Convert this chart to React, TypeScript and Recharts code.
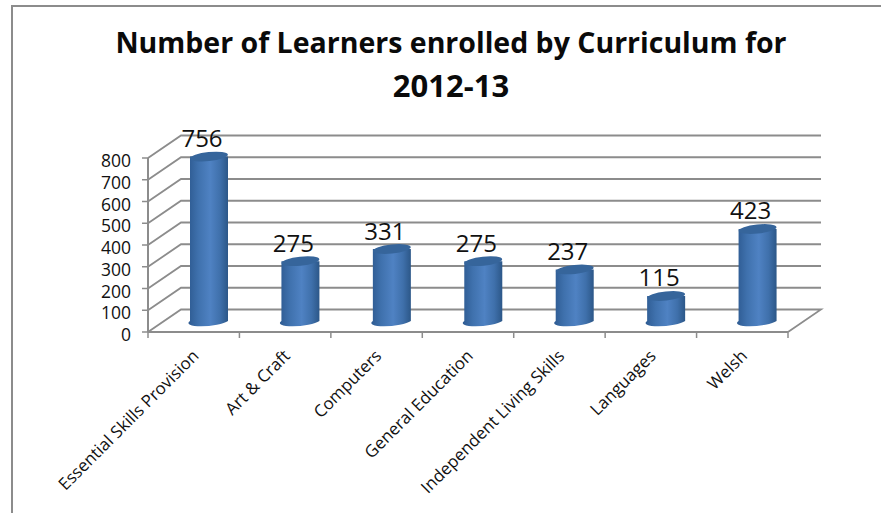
import { BarChart, Bar, XAxis, YAxis, CartesianGrid, LabelList } from "recharts";

const categories = [
  "Essential Skills Provision",
  "Art & Craft",
  "Computers",
  "General Education",
  "Independent Living Skills",
  "Languages",
  "Welsh",
];
const learners = [756, 275, 331, 275, 237, 115, 423];
const yTicks = [0, 100, 200, 300, 400, 500, 600, 700, 800];

const data = categories.map((name, i) => ({ name, learners: learners[i] }));

const FONT = "'Open Sans', sans-serif";
const GRID = "#8c8c8c";
const WIDTH = 881;
const HEIGHT = 513;
const PLOT = { left: 148, right: 788, top: 158, bottom: 332 };
const STEP = (PLOT.right - PLOT.left) / categories.length;
// offset of the back wall from the front plane
const DEPTH_X = 33;
const DEPTH_Y = 22.5;
// columns stand in the middle of the floor
const BAR_DX = 15;
const BAR_DY = 11;

function WallLine(props: any) {
  const { x1, x2, y1 } = props;
  const pts = [
    `${x1},${y1}`,
    `${x1 + DEPTH_X},${y1 - DEPTH_Y}`,
    `${x2 + DEPTH_X},${y1 - DEPTH_Y}`,
  ];
  // the floor closes back to the front edge on the right
  if (Math.abs(y1 - PLOT.bottom) < 1) pts.push(`${x2},${y1}`);
  return <polyline points={pts.join(" ")} fill="none" stroke={GRID} strokeWidth={1.8} />;
}

function Cylinder(props: any) {
  const { x, y, width, height } = props;
  const left = x + BAR_DX;
  const top = y - BAR_DY;
  const cx = left + width / 2;
  const rx = width / 2;
  const ry = 4.5;
  const bottom = top + height;
  const body = `M${left},${top} L${left},${bottom} A${rx},${ry} -6 0 0 ${left + width},${bottom} L${left + width},${top} Z`;
  return (
    <g>
      <path d={body} fill="url(#cylinderFill)" />
      <ellipse
        cx={cx}
        cy={top}
        rx={rx}
        ry={ry}
        fill="#36659b"
        transform={`rotate(-6 ${cx} ${top})`}
      />
    </g>
  );
}

function ValueLabel(props: any) {
  const { x, y, width, value } = props;
  return (
    <text
      x={x + width / 2 + 8}
      y={y - 30}
      textAnchor="middle"
      dominantBaseline="central"
      fontFamily={FONT}
      fontSize={24}
      fill="#111"
    >
      {value}
    </text>
  );
}

function CategoryTick(props: any) {
  const { x, y, payload, index } = props;
  const left = x - STEP / 2;
  const isLast = index === categories.length - 1;
  return (
    <g>
      <line x1={left} x2={left} y1={PLOT.bottom} y2={PLOT.bottom + 6} stroke={GRID} strokeWidth={1.5} />
      {isLast && (
        <line
          x1={left + STEP}
          x2={left + STEP}
          y1={PLOT.bottom}
          y2={PLOT.bottom + 6}
          stroke={GRID}
          strokeWidth={1.5}
        />
      )}
      <text
        x={x + 6}
        y={y + 17}
        textAnchor="end"
        fontFamily={FONT}
        fontSize={16.9}
        fill="#111"
        transform={`rotate(-45 ${x + 6} ${y + 17})`}
      >
        {payload.value}
      </text>
    </g>
  );
}

function ValueTick(props: any) {
  const { x, y, payload } = props;
  return (
    <text
      x={x - 5}
      y={y + 2}
      textAnchor="end"
      dominantBaseline="central"
      fontFamily={FONT}
      fontSize={17.5}
      fill="#111"
    >
      {payload.value}
    </text>
  );
}

const titleStyle = {
  position: "absolute",
  left: 0,
  width: 902,
  textAlign: "center",
  fontFamily: FONT,
  fontWeight: 700,
  fontSize: 28.5,
  lineHeight: "44px",
  color: "#0a0a0a",
} as const;

export default function App() {
  return (
    <div
      style={{
        position: "absolute",
        left: 0,
        top: 0,
        width: WIDTH,
        height: HEIGHT,
        background: "#fff",
        overflow: "hidden",
      }}
    >
      <div style={{ position: "absolute", left: 11, top: 5, right: 0, height: 2, background: GRID }} />
      <div style={{ position: "absolute", left: 11, top: 5, bottom: 0, width: 2, background: GRID }} />
      <div style={{ ...titleStyle, top: 20 }}>Number of Learners enrolled by Curriculum for</div>
      <div style={{ ...titleStyle, top: 63, fontSize: 31 }}>2012-13</div>
      <BarChart
        width={WIDTH}
        height={HEIGHT}
        data={data}
        margin={{ top: PLOT.top, right: WIDTH - PLOT.right, bottom: 0, left: 0 }}
        barCategoryGap={(STEP - 38) / 2}
        style={{ position: "absolute", left: 0, top: 0 }}
      >
        <defs>
          <linearGradient id="cylinderFill" x1="0" y1="0" x2="1" y2="0">
            <stop offset="0%" stopColor="#2e5b92" />
            <stop offset="25%" stopColor="#3f71ad" />
            <stop offset="55%" stopColor="#4f82c3" />
            <stop offset="80%" stopColor="#3f70ab" />
            <stop offset="100%" stopColor="#2c5788" />
          </linearGradient>
        </defs>
        <CartesianGrid vertical={false} horizontal={(p: any) => <WallLine key={p.key} {...p} />} />
        <XAxis
          dataKey="name"
          height={HEIGHT - PLOT.bottom}
          interval={0}
          tickLine={false}
          axisLine={{ stroke: GRID, strokeWidth: 2 }}
          tick={(p: any) => <CategoryTick {...p} />}
        />
        <YAxis
          width={PLOT.left}
          domain={[0, 800]}
          ticks={yTicks}
          interval={0}
          tickSize={6}
          tickMargin={6}
          axisLine={{ stroke: GRID, strokeWidth: 2 }}
          tickLine={{ stroke: GRID, strokeWidth: 1.5 }}
          tick={(p: any) => <ValueTick {...p} />}
        />
        <Bar dataKey="learners" barSize={38} shape={Cylinder} isAnimationActive={false}>
          <LabelList dataKey="learners" content={ValueLabel} />
        </Bar>
      </BarChart>
    </div>
  );
}
